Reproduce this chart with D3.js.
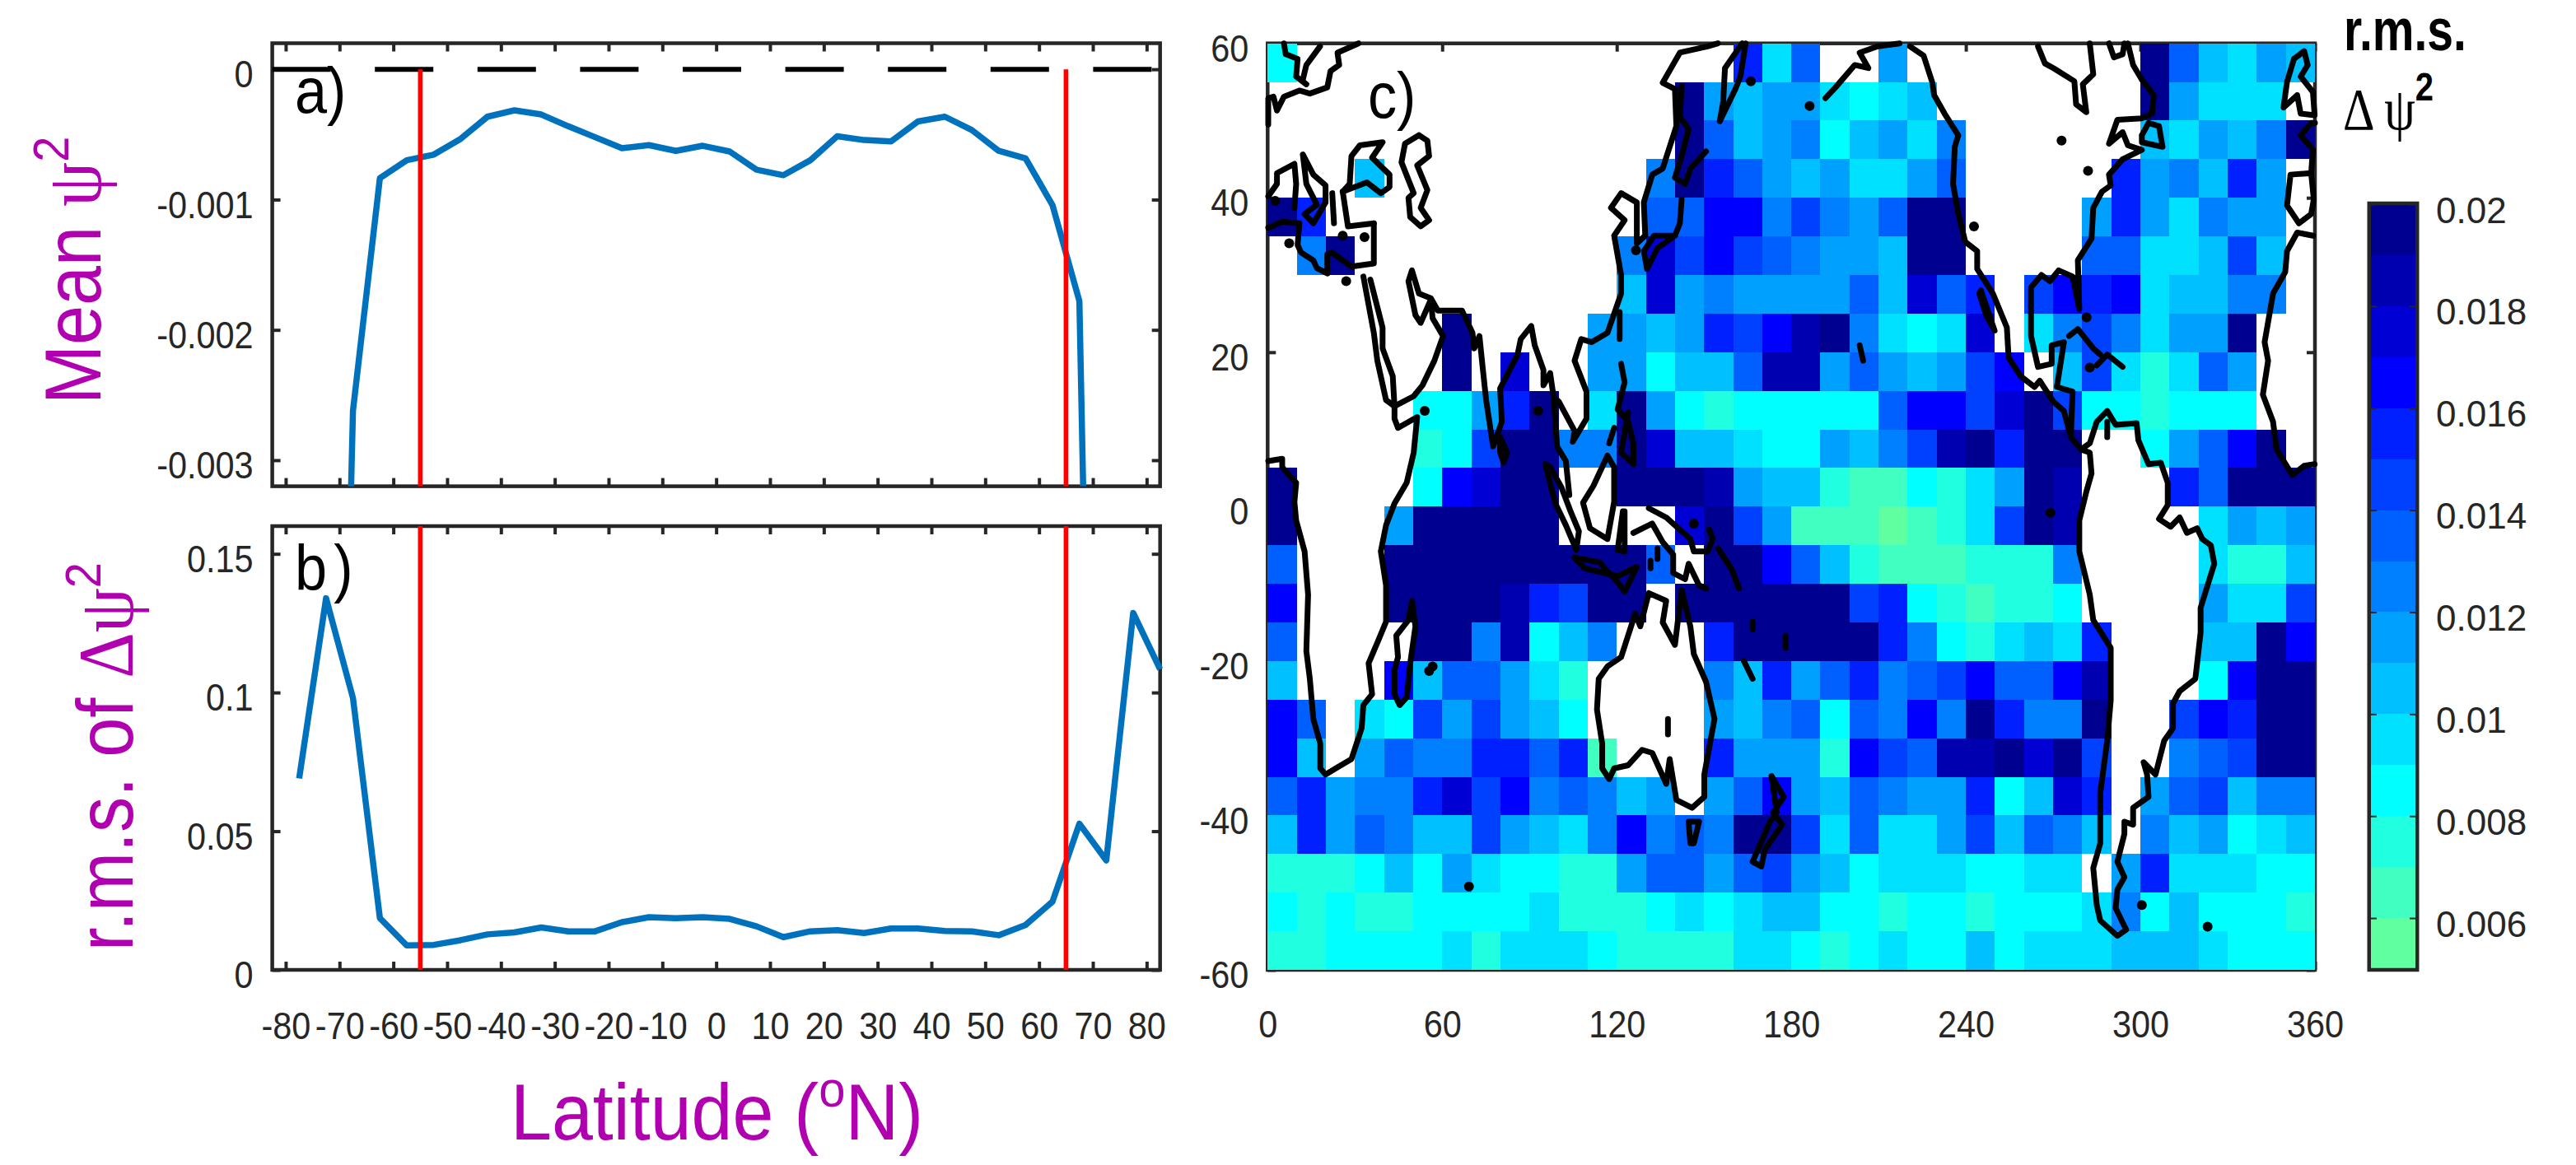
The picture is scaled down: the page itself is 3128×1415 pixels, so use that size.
<!DOCTYPE html>
<html>
<head>
<meta charset="utf-8">
<script src="https://cdn.jsdelivr.net/npm/d3@7"></script>
<style>
  html, body { margin: 0; background: #fff; }
  text { font-family: "Liberation Sans", sans-serif; }
</style>
</head>
<body>
<svg id="chart" width="3128" height="1415"></svg>
<script>
// latitude bins of panels a) and b)
var latitudes = [-77.5,-72.5,-67.5,-62.5,-57.5,-52.5,-47.5,-42.5,-37.5,-32.5,-27.5,-22.5,-17.5,-12.5,-7.5,-2.5,
  2.5,7.5,12.5,17.5,22.5,27.5,32.5,37.5,42.5,47.5,52.5,57.5,62.5,67.5,72.5,77.5,82.5];

// both ends run far off the bottom of the axis, those values are a guess from the slope
var meanPsi2 = [-0.012,-0.011,-0.00262,-0.000836,-0.000698,-0.000655,-0.000534,-0.000364,-0.000315,-0.000347,-0.000437,
  -0.000521,-0.000606,-0.000582,-0.000626,-0.000587,-0.000631,-0.000771,-0.000813,-0.000698,-0.000514,-0.000543,
  -0.000553,-0.0004,-0.000364,-0.000466,-0.000626,-0.000684,-0.001042,-0.00178,-0.012,-0.012,-0.012];

var rmsDeltaPsi2 = [0.069,0.134,0.098,0.0187,0.0088,0.009,0.0107,0.0128,0.0135,0.0153,0.0139,0.0139,0.0172,0.019,0.0186,0.019,
  0.0184,0.0157,0.0118,0.0139,0.0143,0.0133,0.0149,0.0149,0.014,0.0139,0.0125,0.0162,0.0246,0.0527,0.0395,0.1287,0.1084];

var redLatitudes = [-55, 65];
var latTicks = d3.range(-80, 81, 10);
var meanTicks = [0, -0.001, -0.002, -0.003];
var rmsTicks = [0, 0.05, 0.1, 0.15];
var lonTicks = d3.range(0, 361, 60);
var mapLatTicks = d3.range(-60, 61, 20);
var cbarTicks = [0.006, 0.008, 0.01, 0.012, 0.014, 0.016, 0.018, 0.02];

// r.m.s. map on a 10 x 5 degree grid, north to south, in units of 0.001 (lower edge of colour bin), _ = land
var _ = null;
var rmsMap = [
  [8,_,_,_,_,_, _,_,_,_,_,_, _,_,_,_,15,9, 13,_,_,11,_,_, _,_,_,_,_,_, 19,13,10,9,11,10],
  [_,_,_,_,_,_, _,_,_,_,_,_, _,_,19,11,10,11, 11,9,8,9,10,_, _,_,_,_,_,_, 19,11,9,9,9,_],
  [_,_,_,_,_,_, _,_,_,_,_,_, _,_,19,13,10,11, 12,8,10,11,9,12, _,_,_,_,_,_, 10,9,11,10,12,19],
  [_,_,_,10,_,_, _,_,_,_,_,_, _,12,19,15,13,11, 10,11,9,9,11,13, _,_,_,_,_,15, 11,12,10,15,11,_],
  [19,15,_,_,_,_, _,_,_,_,_,_, _,13,13,16,16,12, 14,12,11,13,19,19, _,_,_,_,11,15, 11,9,12,11,11,_],
  [_,12,19,_,_,_, _,_,_,_,_,_, 12,17,14,16,14,13, 12,11,11,10,19,19, _,_,_,_,13,13, 9,9,10,14,10,_],
  [_,_,_,_,_,_, _,_,_,_,_,_, 10,17,11,12,11,11, 11,11,13,10,17,13, 15,_,14,16,15,16, 9,10,10,12,12,_],
  [_,_,_,_,_,_, 19,_,_,_,_,11, 11,10,11,15,14,16, 18,19,12,9,8,9, 17,_,9,12,14,12, 9,11,11,19,_,_],
  [_,_,_,_,_,_, 19,_,17,_,_,11, 11,8,10,10,13,18, 18,11,13,11,10,11, 14,16,_,10,14,9, 7,9,13,11,_,_],
  [_,_,_,_,_,8, 8,11,15,19,_,9, 19,11,8,7,8,8, 8,8,8,13,16,16, 14,17,19,14,8,8, 7,8,8,8,_,_],
  [_,_,_,_,_,7, 8,14,19,19,12,12, 19,17,10,10,9,8, 8,11,10,12,14,18, 19,15,19,19,_,_, 8,11,13,16,19,_],
  [19,_,_,_,_,8, 16,17,19,19,_,_, 19,19,19,18,11,10, 10,7,6,6,8,7, 9,11,19,18,_,_, _,15,13,19,19,19],
  [19,_,_,_,11,19, 19,19,19,19,_,_, _,_,17,19,14,11, 6,6,6,5,6,7, 9,14,19,18,_,_, _,_,9,11,10,11],
  [13,_,_,_,19,19, 19,19,19,19,19,19, 19,13,_,19,19,16, 13,10,7,6,6,6, 7,7,7,12,_,_, _,_,9,7,7,10],
  [16,_,_,_,19,19, 19,19,18,15,14,19, 19,_,19,19,19,19, 19,19,14,15,8,7, 6,7,7,8,_,_, _,_,11,9,9,14],
  [13,_,_,_,_,19, 19,12,18,8,10,12, _,_,_,15,19,19, 19,19,19,15,12,8, 7,9,10,9,15,_, _,_,10,10,19,16],
  [10,_,_,_,16,10, 13,13,11,9,7,_, _,_,_,12,10,15, 11,13,15,12,13,14, 16,13,13,16,18,_, _,_,8,16,19,19],
  [16,13,_,9,8,14, 11,14,11,10,8,_, _,_,_,11,10,12, 13,8,13,12,16,12, 19,15,12,12,19,_, _,14,16,15,19,19],
  [16,10,_,11,13,12, 12,15,15,13,15,6, _,_,_,15,11,11, 11,7,16,14,13,18, 18,19,17,19,14,_, _,12,13,14,19,19],
  [13,15,11,12,12,15, 17,14,16,12,13,12, 10,11,_,11,13,16, 11,10,13,12,11,11, 15,8,10,17,15,_, 11,13,14,10,12,12],
  [10,15,11,13,12,10, 10,14,11,10,9,12, 16,12,13,12,19,19, 14,9,13,9,9,11, 14,10,13,12,10,_, 12,10,11,8,9,10],
  [7,7,7,8,10,8, 11,9,8,8,7,7, 11,13,13,11,13,14, 11,10,8,9,9,9, 8,8,9,9,_,11, 15,9,9,9,8,8],
  [8,7,8,7,7,8, 8,8,8,9,7,7, 7,8,9,8,9,10, 10,8,8,7,8,8, 7,8,8,8,9,12, 8,10,8,8,8,7],
  [7,7,8,8,8,8, 9,7,9,9,9,8, 7,7,7,7,9,9, 8,7,8,9,8,8, 10,8,9,9,9,10, 10,10,9,8,8,8]
];

var binEdges = d3.range(6, 20);
var binColors = ["#60ffa0","#40ffc0","#20ffe0","#00ffff","#00e0ff","#00c0ff","#00a0ff","#0080ff",
  "#0060ff","#0040ff","#0020ff","#0000ff","#0000d4","#0000b0","#000090"];

// coastlines as [lon, lat]
var coastScandinavia = [[0.2,49.5],[0.2,52.9],[2,53.1],[3.2,51.3],[5.6,53.1],[10.9,53.9],[14.5,53.5],[20.5,54.3],[21.6,56.4],[24.6,57.2],[24,58.8],[31.2,60]];
var coastNorway = [[5.6,60],[6.2,58.6],[10.3,58],[9.8,55.7],[13.3,54.7]];
var coastSweden = [[18,59.6],[13.3,57.2],[12.1,55.3]];
var coastIberiaEast = [[0.2,40.2],[3.2,41.8],[3.2,43.2],[9.2,44.4],[9.8,41.8],[9.2,38.7]];
var coastItaly = [[12.1,45.6],[15.7,43],[19.9,41.6],[19.9,39.4],[15.7,36.7],[12.7,37.9],[16.9,39.1],[13.3,41.8],[12.1,45.6]];
var coastGreece = [[22.2,40.6],[22.8,36.7]];
var coastTurkey = [[25.8,40.8],[27.6,36.3],[36.5,36.7]];
var coastBlackSea = [[25.8,40.8],[34.1,42],[38.9,40.6],[41.9,41.4],[41.9,43],[35.9,45.2],[39.5,47.2],[31.7,46.8],[28.8,45.4],[28.2,41.8],[25.8,40.8]];
var coastNorthAfrica = [[36.5,36.7],[36.5,31.5],[28.8,31.1],[22.2,32.9],[20.5,32.7],[20.5,30.2],[16.9,30.9],[15.7,31.9],[11.5,32.9],[10.3,33.9],[10.9,36.7],[5,36.9],[0.2,36.1]];
var coastCaspian = [[52,48.1],[54.9,47.4],[55.5,45.4],[51.4,44.2],[54.9,41],[52.6,38.7],[55.5,37.1],[52.6,36.3],[49,37.5],[48.4,40],[50.2,40.6],[46,44.6],[47.2,47],[52,48.1]];
var coastRedSeaWest = [[32.9,29.8],[36.5,22.5],[37.7,18.9],[40.7,13.8],[43.6,13]];
var coastRedSeaEast = [[35.3,29.4],[39.5,23.2],[39.5,20.5],[43,16.9],[43.6,13]];
var coastSouthAsia = [[43.6,13],[50.2,14.3],[53.2,15.7],[57.3,18.9],[60.3,22.1],[56.7,24.4],[56.1,26.8],[52.6,23.8],[50.8,24.8],[48.4,29.2],[49.6,30.6],[52,27.6],[56.1,27],[58.5,25.4],[66.8,25.4],[70.4,22.5],[71,20.5],[72.8,22.1],[74,17.7],[75.1,13.8],[77.5,7.8],[80.5,11],[79.9,15.3],[85.9,19.7],[87,21.7],[90.6,23.4],[91.8,20.9],[94.8,17.7],[94.8,15.7],[97.1,17.3],[98.3,14.2],[99.5,7.8],[102.5,5.9],[103.7,1.5]];
var coastEastAsia = [[98.3,14.2],[100.1,13.6],[105.5,9.8],[104.9,8.4],[109.6,11.4],[109.6,14.9],[105.5,18.9],[107.8,21.7],[111.4,21.3],[116.8,22.5],[121.5,27.6],[121.5,30],[119.1,35.1],[122.7,37.1],[118,38.7],[121.5,40.6],[126.9,39.4],[126.9,34.1],[129.8,35.1],[129.3,39.4],[132.2,43],[135.8,43.8],[140.5,49.3],[140,54.1],[135.8,54.9],[141.7,58.8],[151.2,59.6],[154.8,60]];
var coastKamchatka = [[163.1,60],[157.2,56.8],[156.6,52.5],[155.4,49.9],[160.8,54.1],[162.5,55.7],[164.3,60]];
var coastSakhalin = [[142.3,54.5],[141.7,50.5],[144.7,48.9],[142.3,45.4],[140,42.6],[143.5,41.8],[145.3,43.8],[150.7,46]];
var coastJapan = [[142.3,39.8],[141.7,36.7],[140,35.1],[132.8,35.1],[129.3,33.1],[130.4,30.8],[134,33.5],[140,35.1]];
var coastAfricaEast = [[43.6,13],[43.6,11.4],[44.8,10.2],[51.4,11.6],[50.2,7],[47.8,3.1],[43.6,0.4],[40.7,-2.4],[38.9,-5.8],[40.7,-10.2],[40.7,-14.9],[38.3,-17.1],[34.7,-20.3],[35.9,-24.3],[32.9,-25.7],[32.3,-28.7],[28.8,-32.7],[23.4,-33.9],[19.9,-34.7],[18.1,-33.9],[18.1,-30.7],[15.7,-27.5],[14.5,-22.3],[13.3,-18.7],[13.9,-11.4],[12.7,-5.8],[9.8,-1.8],[9.2,0.6],[9.8,3.1],[5,5.1],[5,6.2],[0.2,5.9]];
var coastAfricaWest = [[359.9,5.5],[356.3,5.3],[352.2,4.1],[346.8,7.4],[345.6,11],[342.1,14.5],[343.9,18.9],[342.7,21.3],[345.6,27.6],[349.8,30.4],[350.4,33.1],[353.9,35.5],[359.3,35.1]];
var coastIberiaWest = [[354.5,36.7],[350.4,39],[351.6,43],[358.7,43.2],[359.6,39.8],[358.7,37.9],[354.5,36.7]];
var coastFrance = [[358.7,43.2],[359.3,46.2],[355.1,48.1],[358.7,49.7],[360,49.7]];
var coastBritain = [[352.8,58],[356.3,59],[357.5,57.2],[355.1,55.7],[359.3,53.7],[359.9,50.7],[355.1,50.9],[353.9,53.3],[349.2,51.7],[350.4,55],[352.8,58]];
var coastAlaska = [[191.7,52.9],[195.2,54.3],[201.8,57.2],[206.5,56.8],[203.5,58.8],[209.5,59.6],[217.2,60]];
var coastAmericasWest = [[220.8,59.6],[225.5,58.4],[228.5,54.9],[229.1,53.3],[232.7,50.9],[237.4,48.1],[236.2,46.6],[235.6,41.8],[237.4,37.9],[239.8,34.3],[243.9,33.1],[243.9,30.8],[249.3,27.6],[254.1,23.2],[254.7,19.3],[258.8,16.9],[263.6,15.5],[265.4,16.3],[270.1,13.6],[273.7,12.4],[276.1,9],[279.6,7.4],[282.6,7],[283.2,4.3],[281.4,1.9],[279,-1.8],[279,-5.8],[282.6,-11.4],[283.8,-14.7],[289.8,-18.3],[289.8,-25.1],[288.6,-30.3],[286.2,-37.1],[286.2,-43.6],[283.8,-46.8],[285,-51.6],[286.2,-53.6],[292.1,-55.6],[295.1,-54.8],[291.5,-52],[292.1,-49.6],[294.5,-48],[292.1,-46],[294.5,-42.4],[294.5,-40.8],[297.5,-41.2],[297.5,-39],[302.8,-37.6],[302.3,-34.7],[301.1,-33.1],[305.2,-34.7],[308.2,-30.3],[311.2,-28.7],[311.2,-25.5],[313.5,-23.9],[318.9,-22.3],[320.7,-16.3],[320.7,-13.1],[325.4,-7.4],[324.2,-5],[321.3,-4.2],[319.5,-2.8],[316,-3.4],[313.5,-1.4],[310.4,-2.6],[306.4,-1.6],[309.4,0.2],[309.4,3.1],[307,5.7],[302.8,5.5],[299.3,8.6],[298.7,10.8],[291.5,10.6],[288.6,12.4],[285,11],[282.6,8.2],[279.6,7.4]];
var coastBaja = [[245.2,28],[249.9,22.8],[247,24.8],[244.6,27.6],[245.2,28]];
var coastAmericasEast = [[276.1,9],[276.7,14.9],[271.3,15.5],[273.7,21.3],[269.5,20.9],[269.5,18.5],[264.8,18.1],[262.4,22.1],[262.4,28.4],[266,30],[268.9,29.2],[271.9,30.6],[276.7,29.8],[279,25.6],[278.5,31.9],[283.2,34.7],[283.8,38.7],[286.8,40.8],[289.8,41.6],[289.2,43],[293.9,45],[300.5,46.2],[295.7,46.8],[293.9,48.5],[289.2,47],[292.1,50.1],[300.5,50.3],[304,50.9],[304.6,53.3],[300.5,55.3],[297.5,57.2],[295.7,60]];
var coastNewfoundland = [[300.5,48.1],[302.8,49.7],[306.4,49.3],[307.6,46.6],[300.5,47.2],[300.5,48.1]];
var coastUngava = [[289.2,60],[290.9,58.2],[293.9,58.6],[294.5,60]];
var coastHudson = [[282.6,60],[283.8,56],[280.2,54.7],[281.4,51.1],[277.9,52.1],[277.3,55.1],[270.1,56.8],[267.2,57.4],[264.8,59.6]];
var coastCuba = [[275.5,22.1],[278.5,23],[283.8,20.5],[286.2,19.7]];
var coastHispaniola = [[285,18.3],[288.6,19.7],[293.9,18.1]];
var coastMaracaibo = [[288.6,11],[288.6,9]];
var coastHawaii = [[203.5,20.9],[204.7,18.9]];
var coastSriLanka = [[79.9,9],[82.3,7],[81.1,5.7],[79.9,7],[79.9,9]];
var coastTaiwan = [[121,25.2],[121,21.7]];
var coastPhilippines = [[121.5,18.5],[122.7,16.1],[120.3,12.6],[123.9,11],[125.7,8.2],[125.7,5.5],[121.5,7],[123.9,12.2]];
var coastPalawan = [[119.1,10.2],[117.4,8.2]];
var coastBorneo = [[116.8,6.6],[119.1,5.1],[119.1,0.6],[116.8,-4.2],[110.8,-2.8],[108.4,0.5],[112,2.7],[116.8,6.6]];
var coastSumatra = [[95.4,5.5],[98.9,0.4],[102.5,-2.4],[106.1,-5.6],[107,-3.2],[104,-0.5],[101,2.5],[97,5.2],[95.4,5.5]];
var coastJava = [[105.5,-6.6],[109,-8],[120.3,-9],[126.9,-7.8],[122.7,-11],[120.3,-9.8],[114,-7.2],[105.5,-6.6]];
var coastSulawesi = [[122.1,-0.6],[120.3,-5.6],[122.7,-5.8],[122.7,-0.6]];
var coastNewGuineaSouth = [[125.7,-3.4],[132.2,-2.2],[135.8,-4.6],[139.4,-6.2],[139.4,-8.6],[143.5,-9.4],[144.7,-7.4],[148.3,-10.2],[150.7,-10.6]];
var coastNewGuineaNorth = [[131,-0.2],[137,-1.4],[145.3,-4.2],[146.5,-5.8],[151.2,-5.8],[153,-4.2],[151.8,-3]];
var coastSolomons = [[154.8,-5.4],[159.6,-8.2],[162,-10.6]];
var coastNewCaledonia = [[163.7,-20],[166.7,-22.3]];
var coastFiji = [[178,-16.7],[178,-18.3]];
var coastVanuatu = [[166.7,-14.9],[166.7,-15.9]];
var coastSeram = [[134,-5.4],[134,-6.8]];
var coastTimor = [[131.6,-7],[131.6,-8]];
var coastAustralia = [[131,-11.2],[137,-12.2],[135.8,-15],[140,-17.9],[142.3,-10.8],[145.3,-15.5],[146.5,-19.1],[150.7,-22.7],[153.6,-27.5],[150.1,-34.7],[150.1,-37.6],[145.9,-39],[140.5,-38],[138.2,-32.7],[137,-35.9],[132.2,-31.9],[128.7,-31.5],[123.9,-33.5],[119.1,-33.9],[117.4,-35.3],[115,-33.9],[115,-30.7],[113.2,-26.3],[113.8,-22.3],[116.8,-20.7],[121.5,-19.5],[126.3,-13.9],[128.1,-15.5],[131,-11.2]];
var coastEyre = [[137.6,-27.5],[137.6,-29.5]];
var coastTasmania = [[144.7,-40.8],[148.3,-40.8],[146.5,-43.6],[145.3,-43.6],[144.7,-40.8]];
var coastNewZealand = [[173.2,-34.9],[177.4,-37.6],[173.8,-39.6],[176.8,-41.2],[170.9,-44.4],[169.7,-46.6],[166.7,-46],[172.7,-40.8],[175,-39.6],[173.2,-34.9]];
var coastMadagascar = [[49.6,-12.2],[50.8,-15.5],[49,-20.3],[47.8,-24.7],[45.4,-25.7],[43.6,-24.3],[43.6,-21.1],[44.8,-19.5],[44.2,-16.7],[48.4,-14.7],[49.6,-12.2]];

var coastlines = [coastScandinavia, coastNorway, coastSweden, coastIberiaEast, coastItaly, coastGreece, coastTurkey, coastBlackSea,
  coastNorthAfrica, coastCaspian, coastRedSeaWest, coastRedSeaEast, coastSouthAsia, coastEastAsia, coastKamchatka, coastSakhalin,
  coastJapan, coastAfricaEast, coastAfricaWest, coastIberiaWest, coastFrance, coastBritain, coastAlaska, coastAmericasWest, coastBaja,
  coastAmericasEast, coastNewfoundland, coastUngava, coastHudson, coastCuba, coastHispaniola, coastMaracaibo, coastHawaii, coastSriLanka,
  coastTaiwan, coastPhilippines, coastPalawan, coastBorneo, coastSumatra, coastJava, coastSulawesi, coastNewGuineaSouth, coastNewGuineaNorth,
  coastSolomons, coastNewCaledonia, coastFiji, coastVanuatu, coastSeram, coastTimor, coastAustralia, coastEyre, coastTasmania,
  coastNewZealand, coastMadagascar];

// small islands and lakes, too small to be more than a blob
var coastDots = [[2.6,39.6],[7.4,34.1],[25.8,35.1],[33.3,34.9],[27,29.2],[54,12.4],[93,12.4],[126.6,33.2],[166.1,55.1],[146.5,-2.2],
  [56.7,-20.7],[55.5,-21.3],[69.2,-49.2],[186.3,51.9],[242.8,36.3],[272.9,47.4],[282,43.5],[281.5,24.5],[282.6,18],[269.1,-0.8],
  [300.5,-51.6],[323.1,-54.4]];

var INK = "#262626", BLUE = "#0072bd", RED = "#ff0000", MAGENTA = "#b000b0";

var svg = d3.select("#chart");

var xLat = d3.scaleLinear().domain([-82.5, 82.5]).range([330.6, 1408.7]);
var yMean = d3.scaleLinear().domain([-0.0032, 0.0002]).range([590.6, 52.5]);
var yRms = d3.scaleLinear().domain([0, 0.16]).range([1178, 639]);
var xLon = d3.scaleLinear().domain([0, 360]).range([1539.3, 2811]);
var yLat = d3.scaleLinear().domain([-60, 60]).range([1178, 52.7]);
var yBar = d3.scaleLinear().domain([0.005, 0.02]).range([1177, 248]);
var binColor = d3.scaleThreshold().domain(binEdges).range(binColors);

// squeeze tick text a bit, the original figure was stretched
function squeeze(sel, k) {
  sel.each(function() {
    this.setAttribute("lengthAdjust", "spacingAndGlyphs");
    this.setAttribute("textLength", this.getComputedTextLength() * k);
  });
}

function styleAxis(g, size) {
  g.select(".domain").remove();
  g.selectAll("line").attr("stroke", INK).attr("stroke-width", 4);
  g.selectAll("text").attr("fill", INK).style("font-size", size + "px");
}

function boxAxes(x, y, xTicks, yTicks, xLabels, yLabels, xPad) {
  var r = x.range(), b = y.range();
  var tick = 10;
  var bottom = svg.append("g").attr("transform", "translate(0," + b[0] + ")")
    .call(d3.axisBottom(x).tickValues(xTicks).tickSize(-tick).tickSizeOuter(0).tickPadding(xPad)
      .tickFormat(xLabels ? function(d) { return d; } : ""));
  var top = svg.append("g").attr("transform", "translate(0," + b[1] + ")")
    .call(d3.axisTop(x).tickValues(xTicks).tickSize(-tick).tickSizeOuter(0).tickFormat(""));
  var left = svg.append("g").attr("transform", "translate(" + r[0] + ",0)")
    .call(d3.axisLeft(y).tickValues(yTicks).tickSize(-tick).tickSizeOuter(0).tickPadding(23)
      .tickFormat(yLabels ? function(d) { return d; } : ""));
  var right = svg.append("g").attr("transform", "translate(" + r[1] + ",0)")
    .call(d3.axisRight(y).tickValues(yTicks).tickSize(-tick).tickSizeOuter(0).tickFormat(""));
  [bottom, top, left, right].forEach(function(g) { styleAxis(g, 46); });
  squeeze(bottom.selectAll("text"), 0.9);
  left.selectAll("text").attr("dy", "0.47em");
  squeeze(left.selectAll("text"), 0.9);
}

function frame(x, y, width) {
  var r = x.range(), b = y.range();
  svg.append("rect")
    .attr("x", r[0]).attr("y", b[1])
    .attr("width", r[1] - r[0]).attr("height", b[0] - b[1])
    .attr("fill", "none").attr("stroke", INK).attr("stroke-width", width);
}

function panelLabel(x, y, str, dx) {
  var t = svg.append("text")
    .attr("transform", "translate(" + x + "," + y + ") scale(0.9,1)")
    .style("font-size", "78px").attr("fill", "#000");
  t.append("tspan").text(str.charAt(0));
  t.append("tspan").attr("dx", dx).text(str.charAt(1));
}

// --- panel a
boxAxes(xLat, yMean, latTicks, meanTicks, false, true, 0);
frame(xLat, yMean, 4.5);

svg.append("clipPath").attr("id", "clipA").append("rect")
  .attr("x", xLat(-82.5)).attr("y", yMean(0.0002))
  .attr("width", xLat(82.5) - xLat(-82.5)).attr("height", yMean(-0.0032) - yMean(0.0002));

var lineMean = d3.line().x(function(d, i) { return xLat(latitudes[i]); }).y(function(d) { return yMean(d); });
var lineRms = d3.line().x(function(d, i) { return xLat(latitudes[i]); }).y(function(d) { return yRms(d); });

svg.append("path").datum(meanPsi2)
  .attr("clip-path", "url(#clipA)")
  .attr("d", lineMean).attr("fill", "none")
  .attr("stroke", BLUE).attr("stroke-width", 7.5).attr("stroke-linejoin", "round");

svg.append("line")
  .attr("x1", xLat(-82.5)).attr("x2", xLat(81))
  .attr("y1", yMean(0)).attr("y2", yMean(0))
  .attr("stroke", "#000").attr("stroke-width", 6).attr("stroke-dasharray", "71 53.6");

svg.selectAll(".redA").data(redLatitudes).enter().append("line")
  .attr("x1", function(d) { return xLat(d); }).attr("x2", function(d) { return xLat(d); })
  .attr("y1", yMean(0)).attr("y2", yMean(-0.0032))
  .attr("stroke", RED).attr("stroke-width", 5.5);

panelLabel(358, 137, "a)", 0);

// --- panel b
boxAxes(xLat, yRms, latTicks, rmsTicks, true, true, 51);
frame(xLat, yRms, 4.5);

svg.append("path").datum(rmsDeltaPsi2)
  .attr("d", lineRms).attr("fill", "none")
  .attr("stroke", BLUE).attr("stroke-width", 7.5).attr("stroke-linejoin", "round");

svg.selectAll(".redB").data(redLatitudes).enter().append("line")
  .attr("x1", function(d) { return xLat(d); }).attr("x2", function(d) { return xLat(d); })
  .attr("y1", yRms(0)).attr("y2", yRms(0.16))
  .attr("stroke", RED).attr("stroke-width", 5.5);

panelLabel(358, 717, "b)", 9);

// --- panel c
boxAxes(xLon, yLat, lonTicks, mapLatTicks, true, true, 49);
frame(xLon, yLat, 4.5);

var cells = [];
rmsMap.forEach(function(row, j) {
  row.forEach(function(v, i) {
    if (v !== null) cells.push({ lon: i * 10, lat: 60 - j * 5, v: v });
  });
});

svg.append("g").attr("shape-rendering", "crispEdges")
  .selectAll("rect").data(cells).enter().append("rect")
  .attr("x", function(d) { return xLon(d.lon); })
  .attr("y", function(d) { return yLat(d.lat); })
  .attr("width", function(d) { return xLon(d.lon + 10) - xLon(d.lon); })
  .attr("height", function(d) { return yLat(d.lat - 5) - yLat(d.lat); })
  .attr("fill", function(d) { return binColor(d.v); });

var coastLine = d3.line().x(function(d) { return xLon(d[0]); }).y(function(d) { return yLat(d[1]); });

svg.append("g").selectAll("path").data(coastlines).enter().append("path")
  .attr("d", coastLine).attr("fill", "none")
  .attr("stroke", "#000").attr("stroke-width", 7)
  .attr("stroke-linejoin", "round").attr("stroke-linecap", "round");

svg.append("g").selectAll("circle").data(coastDots).enter().append("circle")
  .attr("cx", function(d) { return xLon(d[0]); })
  .attr("cy", function(d) { return yLat(d[1]); })
  .attr("r", 6).attr("fill", "#000");

panelLabel(1661, 143, "c)", 0);

// --- colour bar
var barX = 2879, barW = 54;
svg.append("g").attr("shape-rendering", "crispEdges")
  .selectAll("rect").data(binColors).enter().append("rect")
  .attr("x", barX)
  .attr("y", function(d, i) { return yBar((i + 6) / 1000); })
  .attr("width", barW)
  .attr("height", function(d, i) { return yBar((i + 5) / 1000) - yBar((i + 6) / 1000); })
  .attr("fill", function(d) { return d; });

svg.append("rect")
  .attr("x", barX - 2.25).attr("y", yBar(0.02) - 1)
  .attr("width", barW + 4.5).attr("height", yBar(0.005) - yBar(0.02) + 2)
  .attr("fill", "none").attr("stroke", INK).attr("stroke-width", 4.5);

var barRight = svg.append("g").attr("transform", "translate(" + (barX + barW) + ",0)")
  .call(d3.axisRight(yBar).tickValues(cbarTicks).tickSize(-7).tickSizeOuter(0).tickPadding(25)
    .tickFormat(function(d) { return d; }));
var barLeft = svg.append("g").attr("transform", "translate(" + barX + ",0)")
  .call(d3.axisLeft(yBar).tickValues(cbarTicks).tickSize(-7).tickSizeOuter(0).tickFormat(""));
styleAxis(barRight, 44);
styleAxis(barLeft, 44);
barRight.selectAll("line").attr("stroke-width", 2);
barLeft.selectAll("line").attr("stroke-width", 2);
barRight.selectAll("text").attr("dy", "0.5em");

// --- axis titles
function magentaTitle(x, y, rotate, sx) {
  return svg.append("text")
    .attr("transform", "translate(" + x + "," + y + ") rotate(" + rotate + ") scale(" + sx + ",1)")
    .style("font-size", "96px").attr("fill", MAGENTA);
}

function greek(t, str) {
  return t.append("tspan").style("font-family", '"Liberation Serif", serif').text(str);
}

var meanTitle = magentaTitle(122, 491, -90, 0.9);
meanTitle.append("tspan").text("Mean ");
greek(meanTitle, "ψ");
meanTitle.append("tspan").attr("dy", -39).style("font-size", "62px").text("2");

var rmsTitle = magentaTitle(160.7, 1155, -90, 0.9);
rmsTitle.append("tspan").text("r.m.s. of ");
greek(rmsTitle, "Δψ");
rmsTitle.append("tspan").attr("dy", -39).style("font-size", "62px").text("2");

var latTitle = magentaTitle(620, 1384, 0, 0.935);
latTitle.append("tspan").text("Latitude (");
latTitle.append("tspan").attr("dy", -40).style("font-size", "62px").text("o");
latTitle.append("tspan").attr("dy", 40).text("N)");

// --- colour bar title
svg.append("text")
  .attr("transform", "translate(2846,61) scale(1,1.28)")
  .style("font-size", "57px").style("font-weight", "bold").attr("fill", "#000")
  .text("r.m.s.");

var barTitle = svg.append("text")
  .attr("transform", "translate(2845,157) scale(1,1.2)")
  .style("font-size", "60px").attr("fill", "#000");
greek(barTitle, "Δ ψ");
barTitle.append("tspan").attr("dy", -29).style("font-size", "40px").style("font-weight", "bold").text("2");
</script>
</body>
</html>
